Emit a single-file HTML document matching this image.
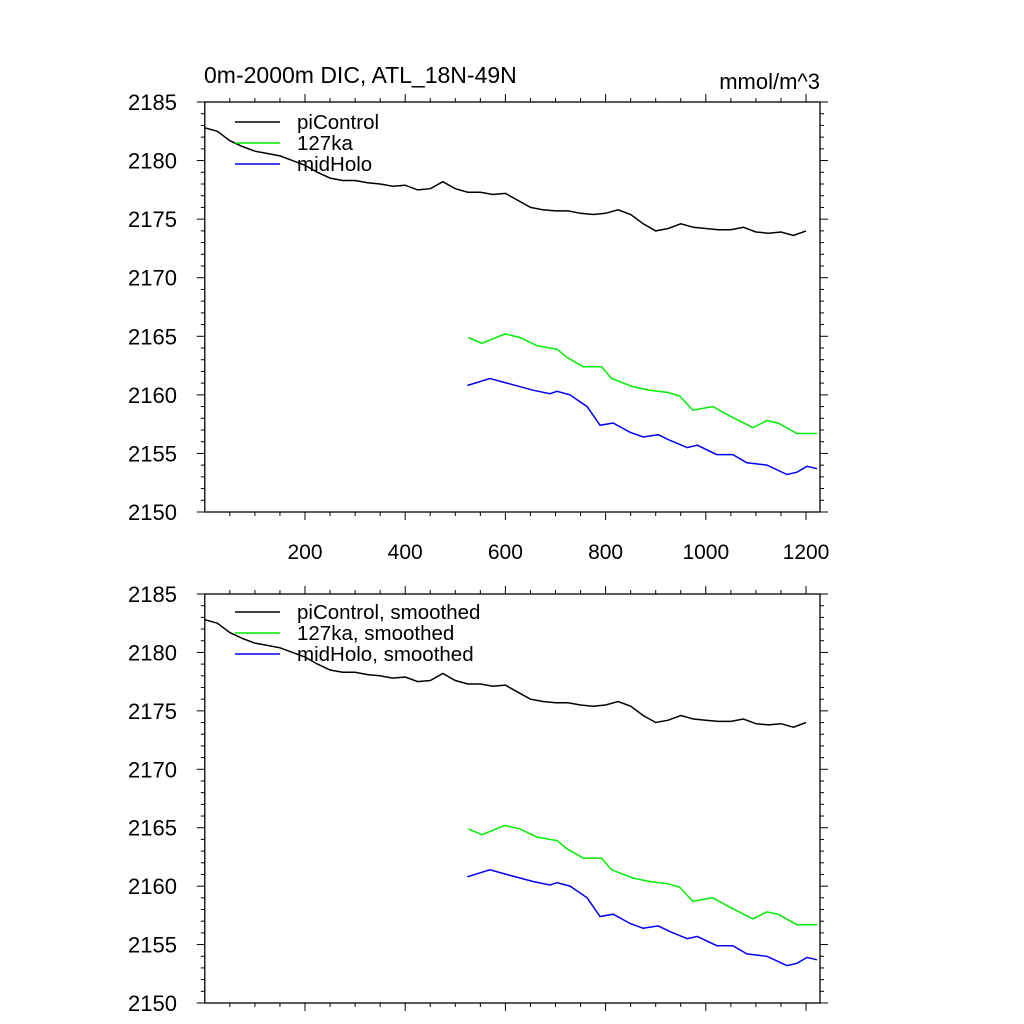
<!DOCTYPE html>
<html><head><meta charset="utf-8"><style>
html,body{margin:0;padding:0;background:#fff;}
svg{display:block;font-family:"Liberation Sans",sans-serif;}
</style></head><body>
<svg id="chart" width="1024" height="1024" viewBox="0 0 1024 1024">
<text x="204" y="83" font-size="23">0m-2000m DIC, ATL_18N-49N</text>
<text x="820" y="89" font-size="22" text-anchor="end">mmol/m^3</text>
</svg>
<script>
const piYears=[0,25,50,75,100,125,150,175,200,225,250,275,300,325,350,375,400,425,450,475,500,525,550,575,600,625,650,675,700,725,750,775,800,825,850,875,900,925,950,975,1000,1025,1050,1075,1100,1125,1150,1175,1200];
const piValues=[2182.8,2182.5,2181.7,2181.2,2180.8,2180.6,2180.4,2180.0,2179.6,2179.0,2178.5,2178.3,2178.3,2178.1,2178.0,2177.8,2177.9,2177.5,2177.6,2178.2,2177.6,2177.3,2177.3,2177.1,2177.2,2176.6,2176.0,2175.8,2175.7,2175.7,2175.5,2175.4,2175.5,2175.8,2175.4,2174.6,2174.0,2174.2,2174.6,2174.3,2174.2,2174.1,2174.1,2174.3,2173.9,2173.8,2173.9,2173.6,2174.0];
const ka127Years=[526,553,599,629,663,703,723,755,792,812,854,888,925,948,974,1014,1048,1094,1122,1144,1182,1222];
const ka127Values=[2164.9,2164.4,2165.2,2164.9,2164.2,2163.9,2163.2,2162.4,2162.4,2161.4,2160.7,2160.4,2160.2,2159.9,2158.7,2159.0,2158.2,2157.2,2157.8,2157.6,2156.7,2156.7];
const midYears=[524,569,603,655,689,703,729,763,789,815,849,875,905,929,963,983,1022,1054,1082,1122,1162,1182,1202,1222];
const midValues=[2160.8,2161.4,2161.0,2160.4,2160.1,2160.3,2160.0,2159.0,2157.4,2157.6,2156.8,2156.4,2156.6,2156.1,2155.5,2155.7,2154.9,2154.9,2154.2,2154.0,2153.2,2153.4,2153.9,2153.7];
const xTicks=[200,400,600,800,1000,1200];
const yTicks=[2150,2155,2160,2165,2170,2175,2180,2185];

const NS="http://www.w3.org/2000/svg";
const svg=document.getElementById('chart');
const X0=204.8,X1=820,XMAX=(X1-X0)/0.501;
function xs(v){return X0+v*0.501;}
function mk(tag,attrs){const e=document.createElementNS(NS,tag);for(const k in attrs)e.setAttribute(k,attrs[k]);svg.appendChild(e);return e;}
function panel(top,bot,showX,suffix,legY,pname){
  const ys=v=>bot-(v-2150)*(bot-top)/35;
  const g=mk('g',{});
  
  
  const box=mk('rect',{x:X0,y:top,width:X1-X0,height:bot-top,fill:'none',stroke:'#000','stroke-width':1.3});
  
  
  for(let v=50;v<=XMAX;v+=50){
    const maj=v%200===0, x=xs(v), L=maj?8:4;
    mk('line',{x1:x,x2:x,y1:bot,y2:bot+L,stroke:'#000','stroke-width':1});
    mk('line',{x1:x,x2:x,y1:top,y2:top-L,stroke:'#000','stroke-width':1});
  }
  if(showX){xTicks.forEach(v=>{const t=mk('text',{x:xs(v),y:bot+47,'font-size':21,'text-anchor':'middle'});t.textContent=v;
    
    });}
  for(let v=2150;v<=2185;v+=1){
    const maj=v%5===0,y=ys(v),L=maj?8:4;
    mk('line',{x1:X0,x2:X0-L,y1:y,y2:y,stroke:'#000','stroke-width':1});
    mk('line',{x1:X1,x2:X1+L,y1:y,y2:y,stroke:'#000','stroke-width':1});
  }
  yTicks.forEach(v=>{const t=mk('text',{x:177,y:ys(v)+8,'font-size':22,'text-anchor':'end'});t.textContent=v;
    
    });
  const series=[[piYears,piValues,'#000','picontrol'],[ka127Years,ka127Values,'#00ee00','127ka'],[midYears,midValues,'#0000ee','midholo']];
  series.forEach(s=>{
    const p=mk('polyline',{points:s[0].map((yr,i)=>xs(yr).toFixed(1)+','+ys(s[1][i]).toFixed(1)).join(' '),fill:'none',stroke:s[2],'stroke-width':1.5});
    
    
  });
  const names=['piControl','127ka','midHolo'];
  names.forEach((n,i)=>{
    const y=legY+i*21;
    mk('line',{x1:235,x2:280,y1:y,y2:y,stroke:series[i][2],'stroke-width':1.5});
    const t=mk('text',{x:297,y:y+7,'font-size':20.5});t.textContent=n+suffix;
    
    
  });
}
panel(102,512,true,'',122,'top-panel');
panel(594,1003,false,', smoothed',612,'bottom-panel');
</script>
</body></html>
